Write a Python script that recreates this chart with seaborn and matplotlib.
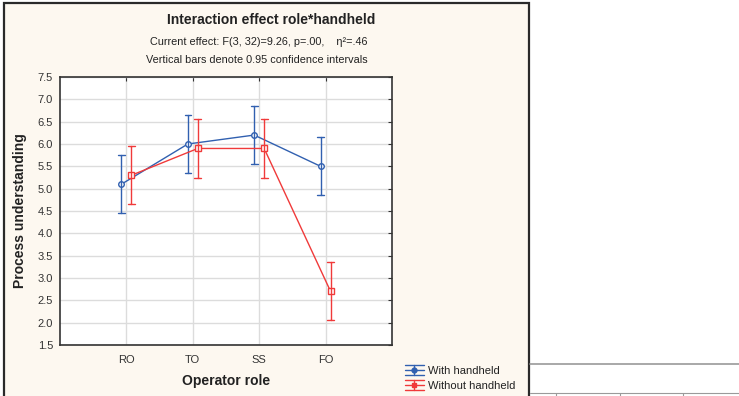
import numpy as np
import pandas as pd
import matplotlib
matplotlib.use("Agg")
import matplotlib.pyplot as plt
from matplotlib.patches import Rectangle
from matplotlib.lines import Line2D
from matplotlib.legend_handler import HandlerBase
from matplotlib.ticker import FormatStrFormatter
import seaborn as sns

# ---- data ----
roles = ["RO", "TO", "SS", "FO"]
groups = ["With handheld", "Without handheld"]
with_mean = [5.10, 6.00, 6.20, 5.50]
with_low = [4.45, 5.35, 5.55, 4.85]
with_high = [5.75, 6.65, 6.85, 6.15]
without_mean = [5.30, 5.90, 5.90, 2.70]
without_low = [4.65, 5.25, 5.25, 2.05]
without_high = [5.95, 6.55, 6.55, 3.35]
yticks = [1.5, 2.0, 2.5, 3.0, 3.5, 4.0, 4.5, 5.0, 5.5, 6.0, 6.5, 7.0, 7.5]

title = "Interaction effect role*handheld"
sub1 = "Current effect: F(3, 32)=9.26, p=.00,    \u03b7\u00b2=.46"
sub2 = "Vertical bars denote 0.95 confidence intervals"

# long table: low / mean / high per cell -> median + full-range interval
rows = []
for g, m, lo, hi in [(groups[0], with_mean, with_low, with_high),
                     (groups[1], without_mean, without_low, without_high)]:
    for r, a, b, c in zip(roles, lo, m, hi):
        for v in (a, b, c):
            rows.append({"role": r, "group": g, "value": v})
df = pd.DataFrame(rows)

sns.set_style("white")
plt.rcParams["font.family"] = ["Liberation Sans", "DejaVu Sans"]

W, H = 739, 396
fig = plt.figure(figsize=(W / 100, H / 100), dpi=100)
fig.patch.set_facecolor("white")

# beige panel
panel = Rectangle((4 / W, -0.02), (525 / W), (H - 3) / H + 0.02,
                  transform=fig.transFigure, facecolor="#fdf8f0",
                  edgecolor="#2a2a2a", linewidth=1.6, zorder=-5)
fig.patches.append(panel)

# table fragment on the right
fig.add_artist(Line2D([530 / W, 1.0], [(H - 364) / H] * 2, transform=fig.transFigure,
                      color="#9a9a9a", linewidth=1.2))
fig.add_artist(Line2D([530 / W, 1.0], [(H - 393) / H] * 2, transform=fig.transFigure,
                      color="#9a9a9a", linewidth=0.8))
for xp in [556, 620, 683]:
    fig.add_artist(Line2D([xp / W] * 2, [0, (H - 393) / H], transform=fig.transFigure,
                          color="#9a9a9a", linewidth=0.8))

ax = fig.add_axes([60 / W, (H - 345) / H, 332 / W, 268 / H])
ax.set_facecolor("white")

blue = "#3160b0"
red = "#f03a3a"
sns.pointplot(data=df, x="role", y="value", hue="group", order=roles,
              hue_order=groups, estimator="median", errorbar=("pi", 100),
              dodge=0.15, markers=["o", "s"], linestyles=["-", "-"],
              palette=[blue, red], capsize=0.1, linewidth=1.0,
              markersize=4, markeredgewidth=1.0, markerfacecolor="white",
              err_kws={"linewidth": 1.0}, legend=False, ax=ax)

ax.set_xlim(-1, 4)
ax.set_ylim(1.5, 7.5)
ax.set_yticks(yticks)
ax.yaxis.set_major_formatter(FormatStrFormatter("%.1f"))
ax.grid(True, color="#dcdcdc", linewidth=1.0)
ax.set_axisbelow(True)
for s in ax.spines.values():
    s.set_color("#333333")
    s.set_linewidth(1.2)
ax.tick_params(direction="in", length=3, width=0.8, colors="#333333",
               labelsize=8, top=True, right=True, labeltop=False, labelright=False,
               pad=5)
ax.tick_params(axis="x", pad=7)
ax.set_xlabel("Operator role", fontsize=10, fontweight="bold", color="#222222",
              labelpad=7)
ax.set_ylabel("Process understanding", fontsize=10, fontweight="bold", color="#222222",
              labelpad=8)

fig.text(271 / W, (H - 20) / H, title, ha="center", va="center",
         fontsize=10, fontweight="bold", color="#222222")
fig.text(259 / W, (H - 42) / H, sub1, ha="center", va="center", fontsize=7.8,
         color="#222222")
fig.text(257 / W, (H - 60) / H, sub2, ha="center", va="center", fontsize=7.8,
         color="#222222")


class ErrGlyph(HandlerBase):
    def create_artists(self, legend, orig_handle, xdescent, ydescent, width, height,
                       fontsize, trans):
        c = orig_handle.get_color()
        mk = orig_handle.get_marker()
        yc = height / 2 - ydescent
        d = height * 0.65
        arts = []
        for yy in (yc - d, yc + d):
            arts.append(Line2D([-xdescent, width - xdescent], [yy, yy], color=c, lw=1.0))
        arts.append(Line2D([-xdescent, width - xdescent], [yc, yc], color=c, lw=1.0))
        xm = width / 2 - xdescent
        arts.append(Line2D([xm, xm], [yc - d, yc + d], color=c, lw=1.0))
        arts.append(Line2D([xm], [yc], color=c, marker=mk, markersize=3.5,
                           markerfacecolor=c, markeredgecolor=c))
        for a in arts:
            a.set_transform(trans)
        return arts


h1 = Line2D([], [], color=blue, marker="o")
h2 = Line2D([], [], color=red, marker="s")
leg = fig.legend(handles=[h1, h2], labels=groups, loc="upper left",
                 bbox_to_anchor=(397 / W, (H - 358) / H), frameon=False,
                 fontsize=8, handlelength=1.7, handletextpad=0.35,
                 labelspacing=0.45, borderpad=0.2,
                 handler_map={Line2D: ErrGlyph()})
for t in leg.get_texts():
    t.set_color("#222222")

fig.savefig("out.png", dpi=100, facecolor=fig.get_facecolor())
